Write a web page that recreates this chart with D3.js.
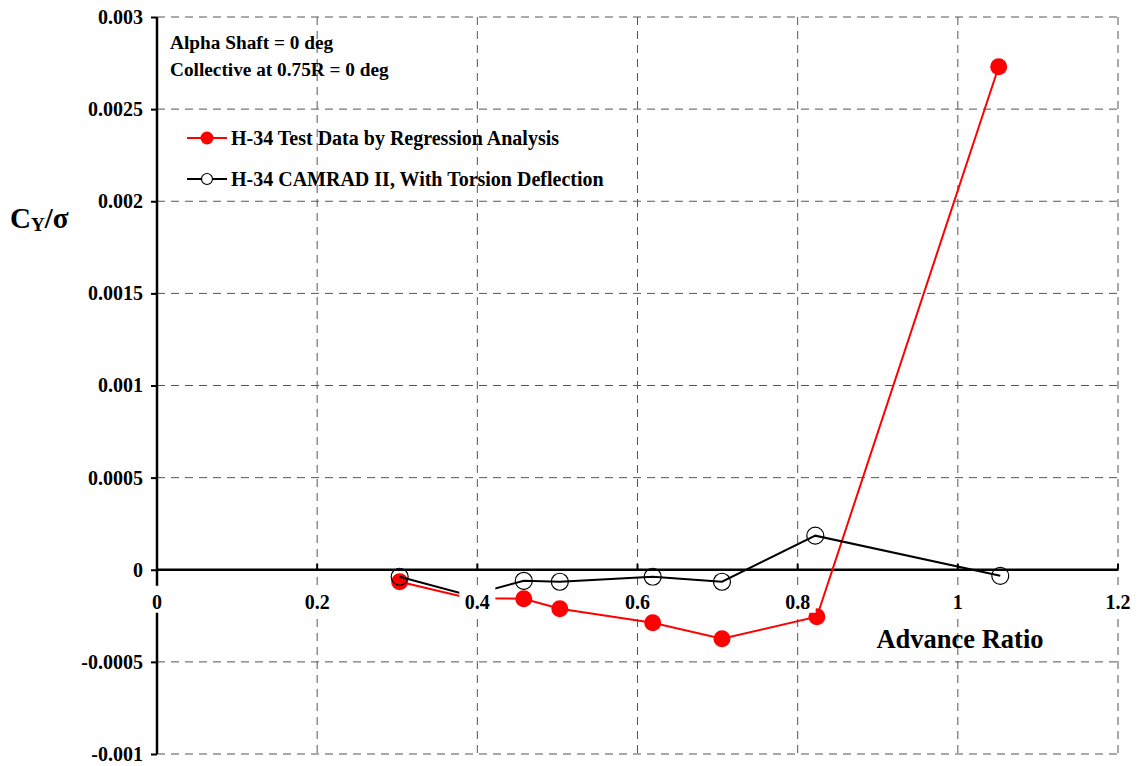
<!DOCTYPE html>
<html>
<head>
<meta charset="utf-8">
<script src="https://cdn.jsdelivr.net/npm/d3@7"></script>
<style>
  body { margin: 0; background: #fff; }
  svg { display: block; font-family: "Liberation Serif", "Times New Roman", serif; font-weight: bold; }
</style>
</head>
<body>
<svg id="chart" width="1138" height="766"></svg>
<script>
/* ---------- data ---------- */
const testMu   = [0.303, 0.39, 0.458, 0.503, 0.619, 0.7055, 0.824, 1.051];
const testCy   = [-0.000065, -0.000155, -0.000157, -0.000212, -0.000288, -0.000375, -0.000255, 0.00273];
const camradMu = [0.303, 0.39, 0.458, 0.503, 0.619, 0.7055, 0.822, 1.053];
const camradCy = [-0.000038, -0.00014, -0.00006, -0.000065, -0.000038, -0.000065, 0.000185, -0.000033];

const xTicks = [0, 0.2, 0.4, 0.6, 0.8, 1, 1.2];
const yTicks = [-0.001, -0.0005, 0, 0.0005, 0.001, 0.0015, 0.002, 0.0025, 0.003];
const yTickLabels = ['-0.001', '-0.0005', '0', '0.0005', '0.001', '0.0015', '0.002', '0.0025', '0.003'];

const notes = ['Alpha Shaft = 0 deg', 'Collective at 0.75R = 0 deg'];
const legendItems = [
  { label: 'H-34 Test Data by Regression Analysis', color: '#ff0000', filled: true },
  { label: 'H-34 CAMRAD II, With Torsion Deflection', color: '#000000', filled: false },
];

/* ---------- scales ---------- */
const svg = d3.select('#chart');
const x = d3.scaleLinear().domain([0, 1.2]).range([157, 1118]);
const y = d3.scaleLinear().domain([-0.001, 0.003]).range([754, 17]);

/* ---------- grid ---------- */
const grid = svg.append('g').attr('stroke', '#555').attr('stroke-width', 1).attr('stroke-dasharray', '8,6');
grid.selectAll('.gx').data(xTicks.slice(1)).join('line')
  .attr('x1', d => x(d)).attr('x2', d => x(d))
  .attr('y1', y(0.003)).attr('y2', y(-0.001));
grid.selectAll('.gy').data(yTicks.filter(d => d !== 0)).join('line')
  .attr('x1', x(0)).attr('x2', x(1.2))
  .attr('y1', d => y(d)).attr('y2', d => y(d));

/* ---------- axes ---------- */
const yAxis = svg.append('g').attr('transform', `translate(${x(0)},0)`)
  .call(d3.axisLeft(y).tickValues(yTicks).tickSize(6).tickPadding(8)
    .tickFormat((d, i) => yTickLabels[i]));
yAxis.select('.domain').attr('stroke-width', 2.5).attr('d', `M-0,${y(0.003)}H0V${y(-0.001)}H-0`);
yAxis.selectAll('.tick line').attr('stroke-width', 2);
yAxis.selectAll('.tick text').attr('font-size', 20).attr('font-family', 'Liberation Serif').attr('font-weight', 'bold');

const xAxis = svg.append('g').attr('transform', `translate(0,${y(0)})`);
xAxis.append('line').attr('x1', x(0)).attr('x2', x(1.2)).attr('stroke', '#000').attr('stroke-width', 2.5);
xAxis.selectAll('.xt').data(xTicks.slice(1)).join('line')
  .attr('x1', d => x(d)).attr('x2', d => x(d)).attr('y1', -6).attr('y2', 0)
  .attr('stroke', '#000').attr('stroke-width', 2);

/* ---------- series ---------- */
function drawSeries(mu, cy, color, filled) {
  const pts = mu.map((m, i) => [m, cy[i]]);
  svg.append('path').datum(pts)
    .attr('fill', 'none').attr('stroke', color).attr('stroke-width', 2)
    .attr('d', d3.line().x(d => x(d[0])).y(d => y(d[1])));
  svg.append('g').selectAll('circle').data(pts).join('circle')
    .attr('cx', d => x(d[0])).attr('cy', d => y(d[1])).attr('r', 8.5)
    .attr('fill', filled ? color : 'none')
    .attr('stroke', color).attr('stroke-width', filled ? 0 : 1.2);
}
drawSeries(testMu, testCy, '#ff0000', true);
drawSeries(camradMu, camradCy, '#000000', false);

/* ---------- x tick labels (opaque) ---------- */
const xl = svg.append('g');
xTicks.forEach(d => {
  const g = xl.append('g').attr('transform', `translate(${x(d)},${y(0) + 39})`);
  const w = d === 0 ? 16 : 36;
  g.append('rect').attr('x', -w / 2).attr('y', -23).attr('width', w).attr('height', 27).attr('fill', '#fff');
  g.append('text').attr('text-anchor', 'middle').attr('font-size', 20).text(d);
});

/* ---------- labels ---------- */
svg.append('text').attr('x', 960).attr('y', 648).attr('text-anchor', 'middle').attr('font-size', 26.5).text('Advance Ratio');

const yl = svg.append('text').attr('x', 10).attr('y', 228).attr('font-size', 29);
yl.append('tspan').text('C');
yl.append('tspan').attr('font-size', 19).attr('dy', 3).text('Y');
yl.append('tspan').attr('dy', -3).text('/σ');

svg.selectAll('.note').data(notes).join('text')
  .attr('x', 170).attr('y', (d, i) => 49 + i * 27)
  .attr('font-size', 19.3).text(d => d);

/* ---------- legend ---------- */
const lg = svg.append('g').selectAll('g').data(legendItems).join('g')
  .attr('transform', (d, i) => `translate(187,${138 + i * 41})`);
lg.append('line').attr('x1', 0).attr('x2', 40).attr('stroke', d => d.color).attr('stroke-width', 2);
lg.append('circle').attr('cx', 20).attr('r', d => d.filled ? 6.5 : 5.5)
  .attr('fill', d => d.filled ? d.color : '#fff').attr('stroke', d => d.color).attr('stroke-width', d => d.filled ? 0 : 1.2);
lg.append('text').attr('x', 44).attr('y', 7).attr('font-size', 20).text(d => d.label);
</script>
</body>
</html>
